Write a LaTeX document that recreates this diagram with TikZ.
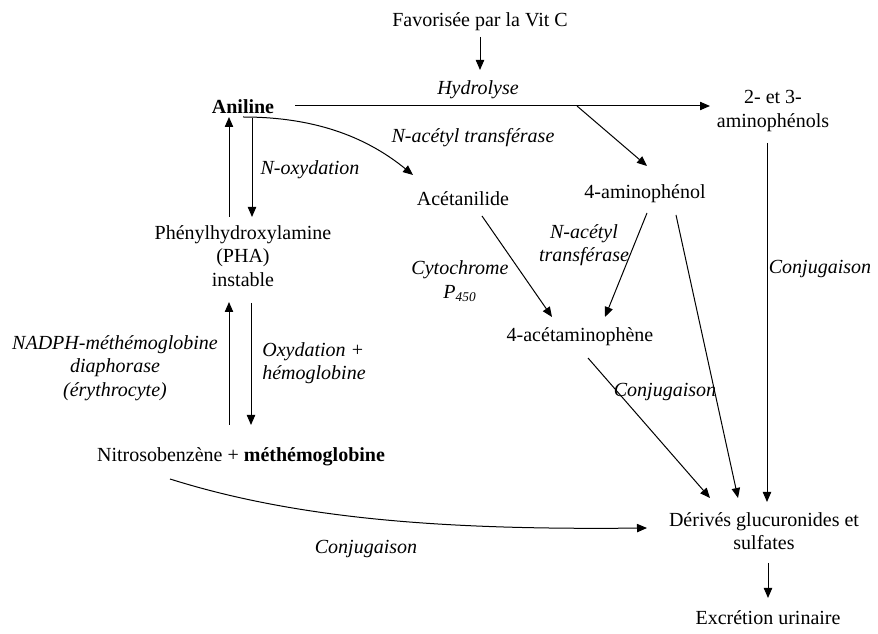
\documentclass[tikz,border=0pt]{standalone}
\usepackage{fontspec}
\setmainfont{Liberation Serif}
\usetikzlibrary{arrows.meta}
\begin{document}
\begin{tikzpicture}[x=0.6pt,y=-0.6pt,
  txt/.style={inner sep=0pt,align=center,font=\fontsize{12}{14}\selectfont},
  lbl/.style={txt,font=\fontsize{12}{14}\selectfont\itshape},
  link/.style={line width=0.6pt},
  arr/.style={link,-{Triangle[length=6pt,width=5pt]}}]
\useasboundingbox (0,0) rectangle (878,634);

% compounds
\node[txt] (vitc) at (480,22) {Favorisée par la Vit C};
\node[txt,font=\fontsize{12}{14}\selectfont\bfseries] (anil) at (243,107) {Aniline};
\node[txt] (amino23) at (773,111) {2- et 3-\\aminophénols};
\node[txt] (acet) at (463,199) {Acétanilide};
\node[txt] (amino4) at (645,194) {4-aminophénol};
\node[txt] (pha) at (243,256) {Phénylhydroxylamine\\(PHA)\\instable};
\node[txt] (acetam) at (580,337) {4-acétaminophène};
\node[txt] (nitro) at (241,457) {Nitrosobenzène + \textbf{méthémoglobine}};
\node[txt] (deriv) at (764,531) {Dérivés glucuronides et\\sulfates};
\node[txt] (excr) at (768,618) {Excrétion urinaire};

% reaction labels
\node[lbl] (hydro) at (478,90) {Hydrolyse};
\node[lbl] (nat1) at (473,138) {N-acétyl transférase};
\node[lbl] (noxy) at (310,170) {N-oxydation};
\node[lbl] (cyto) at (460,281) {Cytochrome\\P\textsubscript{450}};
\node[lbl] (nat2) at (584,245) {N-acétyl\\transférase};
\node[lbl] (conjR) at (820,269) {Conjugaison};
\node[lbl] (conjM) at (665,392) {Conjugaison};
\node[lbl] (nadph) at (115,368) {NADPH-méthémoglobine\\diaphorase\\(érythrocyte)};
\node[lbl,align=left,anchor=west] (oxyd) at (262,363) {Oxydation +\\hémoglobine};
\node[lbl] (conjB) at (366,549) {Conjugaison};

% connector end points
\coordinate (vitcA) at (480,37);
\coordinate (vitcB) at (480,70);
\coordinate (hydA) at (295,106);
\coordinate (hydB) at (710,106);
\coordinate (hydK) at (577,106);
\coordinate (amino4In) at (647,166);
\coordinate (anilOut) at (243,117);
\coordinate (acetIn) at (413,175);
\coordinate (upA) at (229,217);
\coordinate (upB) at (229,117);
\coordinate (dnA) at (252,118);
\coordinate (dnB) at (252,217);
\coordinate (up2A) at (229,425);
\coordinate (up2B) at (229,302);
\coordinate (dn2A) at (251,303);
\coordinate (dn2B) at (251,425);
\coordinate (acetOut) at (482,216);
\coordinate (acetamInL) at (552,317);
\coordinate (amino4OutL) at (647,213);
\coordinate (acetamInR) at (605,317);
\coordinate (amino4OutR) at (676,215);
\coordinate (derivInB) at (738,498);
\coordinate (acetamOut) at (588,358);
\coordinate (derivInA) at (710,498);
\coordinate (amino23Out) at (767,143);
\coordinate (derivInC) at (767,502);
\coordinate (nitroOut) at (170,479);
\coordinate (derivInL) at (647,528);
\coordinate (derivOut) at (768,563);
\coordinate (excrIn) at (768,598);

% connectors
\draw[arr] (vitcA) -- (vitcB);
\draw[arr] (hydA) -- (hydB);
\draw[arr] (hydK) -- (amino4In);
\draw[arr] (anilOut) .. controls (320,117) and (370,140) .. (acetIn);
\draw[arr] (upA) -- (upB);
\draw[arr] (dnA) -- (dnB);
\draw[arr] (up2A) -- (up2B);
\draw[arr] (dn2A) -- (dn2B);
\draw[arr] (acetOut) -- (acetamInL);
\draw[arr] (amino4OutL) -- (acetamInR);
\draw[arr] (amino4OutR) -- (derivInB);
\draw[arr] (acetamOut) -- (derivInA);
\draw[arr] (amino23Out) -- (derivInC);
\draw[arr] (nitroOut) .. controls (300,520) and (450,530) .. (derivInL);
\draw[arr] (derivOut) -- (excrIn);
\end{tikzpicture}
\end{document}
